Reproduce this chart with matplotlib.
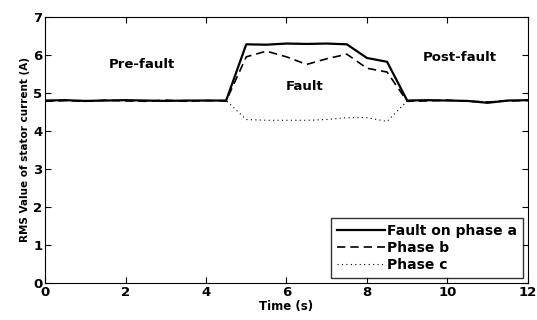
import matplotlib
matplotlib.use('Agg')
import matplotlib.pyplot as plt

plt.rcParams['font.family'] = ['DejaVu Sans']
plt.rcParams['font.weight'] = 'bold'

# time points (s)
t = [0, 0.5, 1, 1.5, 2, 2.5, 3, 3.5, 4, 4.5, 5, 5.5, 6, 6.5, 7, 7.5, 8, 8.5, 9,
     9.5, 10, 10.5, 11, 11.5, 12]
phase_a = [4.80, 4.81, 4.79, 4.80, 4.81, 4.80, 4.79, 4.80, 4.80, 4.80,
           6.28, 6.27, 6.30, 6.29, 6.30, 6.28, 5.92, 5.82, 4.80,
           4.81, 4.80, 4.79, 4.74, 4.80, 4.81]
phase_b = [4.78, 4.80, 4.78, 4.81, 4.79, 4.78, 4.81, 4.78, 4.80, 4.79,
           5.95, 6.10, 5.95, 5.75, 5.90, 6.02, 5.65, 5.55, 4.78,
           4.79, 4.81, 4.78, 4.76, 4.79, 4.80]
phase_c = [4.79, 4.80, 4.79, 4.80, 4.80, 4.79, 4.80, 4.79, 4.80, 4.80,
           4.30, 4.28, 4.28, 4.28, 4.30, 4.35, 4.35, 4.25, 4.79,
           4.80, 4.80, 4.79, 4.77, 4.80, 4.80]

fig = plt.figure(figsize=(5.37, 3.2), dpi=100)
ax = fig.add_axes([0.084, 0.116, 0.899, 0.831])

ax.plot(t, phase_a, color='black', lw=1.6, label='Fault on phase a')
ax.plot(t, phase_b, color='black', lw=1.2, ls=(0, (5, 3)), label='Phase b')
ax.plot(t, phase_c, color='black', lw=0.8, ls=(0, (1, 3)), label='Phase c')

ax.text(2.4, 5.75, 'Pre-fault', fontsize=9.5, fontweight='bold', ha='center', va='center')
ax.text(6.45, 5.17, 'Fault', fontsize=9.5, fontweight='bold', ha='center', va='center')
ax.text(10.3, 5.93, 'Post-fault', fontsize=9.5, fontweight='bold', ha='center', va='center')

ax.set_xlim(0, 12)
ax.set_ylim(0, 7)
ax.set_xticks(range(0, 13, 2))
ax.set_yticks(range(0, 8))
ax.tick_params(direction='in', top=True, right=True, labelsize=9.5, length=4, pad=2)
for lab in ax.get_xticklabels() + ax.get_yticklabels():
    lab.set_fontweight('bold')
ax.set_xlabel('Time (s)', fontsize=8.5, fontweight='bold', labelpad=1)
ax.set_ylabel('RMS Value of stator current (A)', fontsize=7.5, fontweight='bold', labelpad=2)

leg = ax.legend(loc='lower right', fontsize=10, frameon=True, fancybox=False,
                edgecolor='black', borderpad=0.45, labelspacing=0.2, handlelength=3.4,
                handletextpad=0.15, borderaxespad=0.35)
leg.get_frame().set_linewidth(1.0)
for txt in leg.get_texts():
    txt.set_fontweight('bold')

fig.savefig('out.png', dpi=100)
